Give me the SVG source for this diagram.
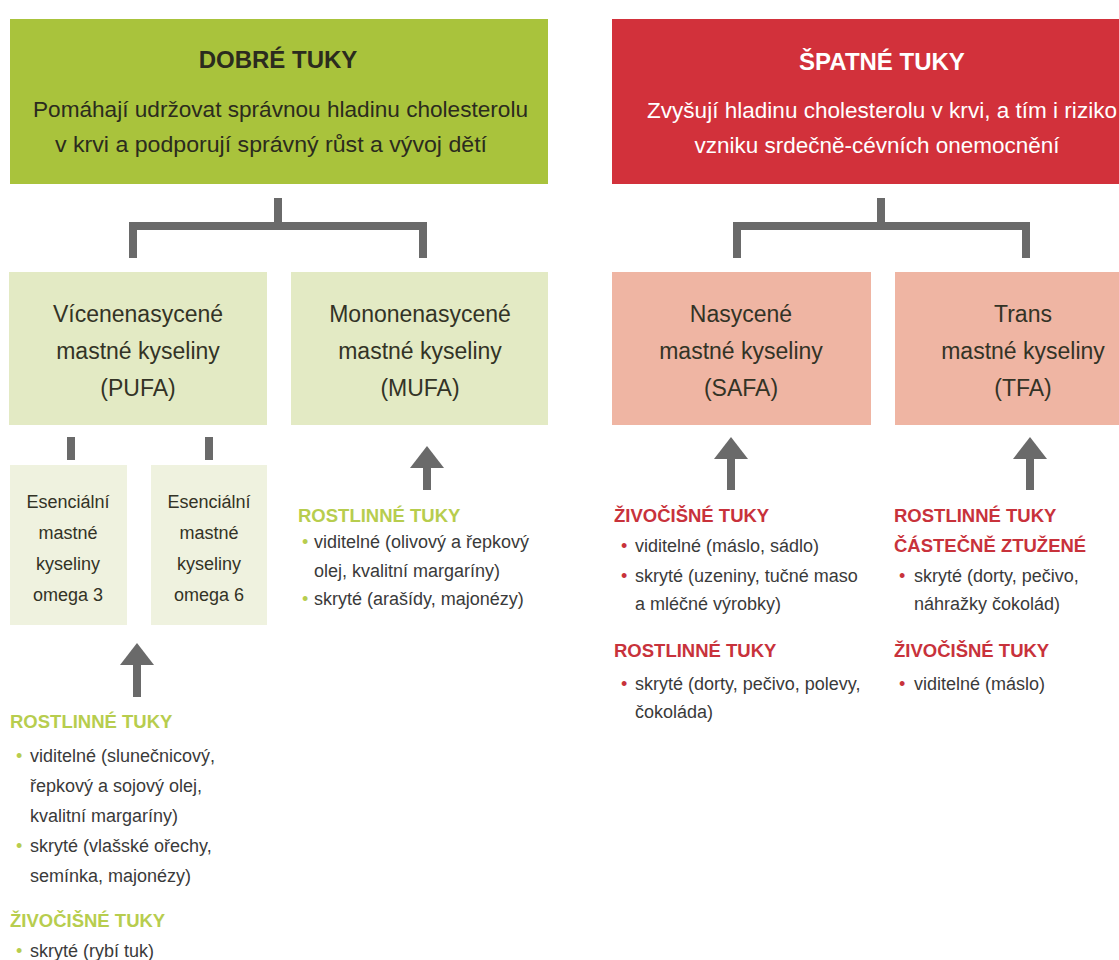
<svg xmlns="http://www.w3.org/2000/svg" width="1119" height="960" viewBox="0 0 1119 960">
<defs>
<style>
text{font-family:"Liberation Sans",Arial,sans-serif;}
.hdr-t{font-size:24px;font-weight:bold;text-anchor:middle;}
.hdr-s{font-size:22.5px;}
.box-t{font-size:23px;fill:#333326;text-anchor:middle;}
.sm-t{font-size:18px;fill:#333326;text-anchor:middle;}
.hg{font-size:18.5px;font-weight:bold;fill:#b7cd4e;}
.hr{font-size:18.5px;font-weight:bold;fill:#c8323b;}
.bt{font-size:18px;fill:#3a3a3a;}
.bg{fill:#b7cd4e;font-size:18px;}
.br{fill:#c8323b;font-size:18px;}
.conn{fill:none;stroke:#6a6a6a;stroke-width:8;}
.arr{stroke:#6a6a6a;stroke-width:8;marker-end:url(#ah);}
</style>
<marker id="ah" markerUnits="userSpaceOnUse" markerWidth="22" markerHeight="34" viewBox="0 0 22 34" refX="1" refY="17" orient="auto">
<path d="M0,0 L22,17 L0,34 z" fill="#6a6a6a"/>
</marker>
</defs>
<rect width="1119" height="960" fill="#ffffff"/>

<g id="good-fats">
<rect x="10" y="19" width="538" height="165" fill="#a9c33c"/>
<text class="hdr-t" x="278" y="68" fill="#2b2b1e">DOBRÉ TUKY</text>
<text class="hdr-s" x="33" y="117" fill="#2b2b1e" textLength="495" lengthAdjust="spacingAndGlyphs">Pomáhají udržovat správnou hladinu cholesterolu</text>
<text class="hdr-s" x="55" y="152" fill="#2b2b1e" textLength="432" lengthAdjust="spacingAndGlyphs">v krvi a podporují správný růst a vývoj dětí</text>
</g>

<g id="bad-fats">
<rect x="612" y="19" width="507" height="165" fill="#d2313b"/>
<text class="hdr-t" x="882" y="70" fill="#ffffff">ŠPATNÉ TUKY</text>
<text class="hdr-s" x="647" y="118" fill="#ffffff" textLength="470" lengthAdjust="spacingAndGlyphs">Zvyšují hladinu cholesterolu v krvi, a tím i riziko</text>
<text class="hdr-s" x="877" y="153" fill="#ffffff" text-anchor="middle">vzniku srdečně-cévních onemocnění</text>
</g>

<g id="pufa">
<rect x="9" y="272" width="258" height="153" fill="#e3eac4"/>
<text class="box-t" x="138" y="322">Vícenenasycené</text>
<text class="box-t" x="138" y="359">mastné kyseliny</text>
<text class="box-t" x="138" y="396">(PUFA)</text>
</g>

<g id="mufa">
<rect x="291" y="272" width="257" height="153" fill="#e3eac4"/>
<text class="box-t" x="420" y="322">Mononenasycené</text>
<text class="box-t" x="420" y="359">mastné kyseliny</text>
<text class="box-t" x="420" y="396">(MUFA)</text>
</g>

<g id="safa">
<rect x="612" y="272" width="259" height="153" fill="#efb5a3"/>
<text class="box-t" x="741" y="322">Nasycené</text>
<text class="box-t" x="741" y="359">mastné kyseliny</text>
<text class="box-t" x="741" y="396">(SAFA)</text>
</g>

<g id="tfa">
<rect x="895" y="272" width="224" height="153" fill="#efb5a3"/>
<text class="box-t" x="1023" y="322">Trans</text>
<text class="box-t" x="1023" y="359">mastné kyseliny</text>
<text class="box-t" x="1023" y="396">(TFA)</text>
</g>

<g id="omega3">
<rect x="10" y="465" width="117" height="160" fill="#eff2df"/>
<text class="sm-t" x="68" y="508">Esenciální</text>
<text class="sm-t" x="68" y="539">mastné</text>
<text class="sm-t" x="68" y="570">kyseliny</text>
<text class="sm-t" x="68" y="601">omega 3</text>
</g>

<g id="omega6">
<rect x="151" y="465" width="116" height="160" fill="#eff2df"/>
<text class="sm-t" x="209" y="508">Esenciální</text>
<text class="sm-t" x="209" y="539">mastné</text>
<text class="sm-t" x="209" y="570">kyseliny</text>
<text class="sm-t" x="209" y="601">omega 6</text>
</g>

<g id="mufa-sources">
<text class="hg" x="298" y="522">ROSTLINNÉ TUKY</text>
<text class="bg" x="302" y="548">•</text>
<text class="bt" x="314" y="548">viditelné (olivový a řepkový</text>
<text class="bt" x="314" y="577">olej, kvalitní margaríny)</text>
<text class="bg" x="302" y="605">•</text>
<text class="bt" x="314" y="605">skryté (arašídy, majonézy)</text>
</g>

<g id="pufa-sources">
<text class="hg" x="10" y="728">ROSTLINNÉ TUKY</text>
<text class="bg" x="16" y="762">•</text>
<text class="bt" x="30" y="762">viditelné (slunečnicový,</text>
<text class="bt" x="30" y="792">řepkový a sojový olej,</text>
<text class="bt" x="30" y="822">kvalitní margaríny)</text>
<text class="bg" x="16" y="852">•</text>
<text class="bt" x="30" y="852">skryté (vlašské ořechy,</text>
<text class="bt" x="30" y="882">semínka, majonézy)</text>
<text class="hg" x="10" y="927">ŽIVOČIŠNÉ TUKY</text>
<text class="bg" x="16" y="957">•</text>
<text class="bt" x="30" y="957">skryté (rybí tuk)</text>
</g>

<g id="safa-sources">
<text class="hr" x="614" y="522">ŽIVOČIŠNÉ TUKY</text>
<text class="br" x="621" y="552">•</text>
<text class="bt" x="635" y="552">viditelné (máslo, sádlo)</text>
<text class="br" x="621" y="582">•</text>
<text class="bt" x="635" y="582">skryté (uzeniny, tučné maso</text>
<text class="bt" x="635" y="610">a mléčné výrobky)</text>
<text class="hr" x="614" y="657">ROSTLINNÉ TUKY</text>
<text class="br" x="621" y="690">•</text>
<text class="bt" x="635" y="690">skryté (dorty, pečivo, polevy,</text>
<text class="bt" x="635" y="718">čokoláda)</text>
</g>

<g id="tfa-sources">
<text class="hr" x="894" y="522">ROSTLINNÉ TUKY</text>
<text class="hr" x="894" y="552">ČÁSTEČNĚ ZTUŽENÉ</text>
<text class="br" x="899" y="582">•</text>
<text class="bt" x="914" y="582">skryté (dorty, pečivo,</text>
<text class="bt" x="914" y="610">náhražky čokolád)</text>
<text class="hr" x="894" y="657">ŽIVOČIŠNÉ TUKY</text>
<text class="br" x="899" y="690">•</text>
<text class="bt" x="914" y="690">viditelné (máslo)</text>
</g>

<g id="connectors">
<path class="conn" d="M278,198 V226 M133,258 V226 H423 V258"/>
<path class="conn" d="M881,198 V226 M737,258 V226 H1026 V258"/>
<path class="conn" stroke-width="7" d="M71,437 V460 M209,437 V460"/>
<line class="arr" x1="427" y1="490" x2="427" y2="467"/>
<line class="arr" x1="731" y1="490" x2="731" y2="458"/>
<line class="arr" x1="1030" y1="490" x2="1030" y2="458"/>
<line class="arr" x1="137" y1="697" x2="137" y2="664"/>
</g>
</svg>
